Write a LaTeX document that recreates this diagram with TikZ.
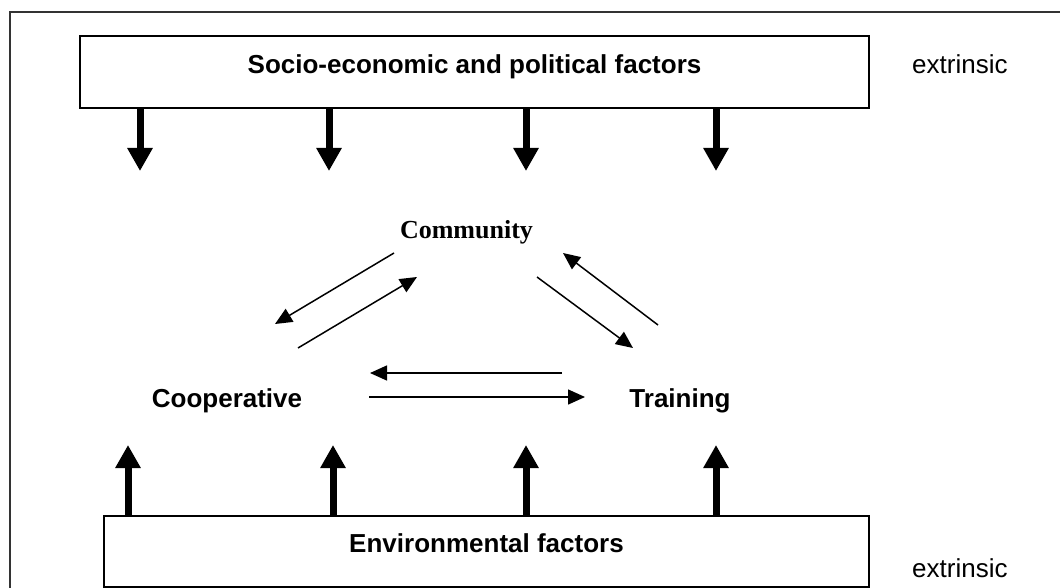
\documentclass[tikz,border=0pt]{standalone}
\usepackage{fontspec}
\setmainfont{Liberation Sans}
\newfontfamily\timesfont{Liberation Serif}
\usetikzlibrary{arrows.meta}
\tikzset{
    factor box/.style = {
        draw,
        line width=1.3pt,
        inner sep=0pt,
        font=\fontsize{26}{30}\selectfont\bfseries,
        },
    actor/.style = {
        anchor=base,
        inner sep=0pt,
        font=\fontsize{26}{30}\selectfont\bfseries,
        },
    side/.style = {
        anchor=base west,
        inner sep=0pt,
        font=\fontsize{26}{30}\selectfont,
        },
    pressure/.style = {
        line width=7pt,
        -{Triangle[length=23pt,width=24pt]},
        },
    link/.style = {
        line width=1.5pt,
        -{Triangle[length=17pt,width=15pt]},
        },
}
\begin{document}
\begin{tikzpicture}[x=1pt,y=-1pt]
            \useasboundingbox (0,0) rectangle (1060,588);
            \draw[line width=1.5pt, black!80] (10,588) -- (10,12) -- (1060,12);

            \node[factor box, minimum width=789pt, text height=38pt, text depth=34pt] (socio) at (474.5,72) {Socio-economic and political factors};
            \node[factor box, minimum width=765pt, text height=36pt, text depth=35pt] (env) at (486.5,551.5) {Environmental factors};
            \node[side] (ext1) at (912,74) {extrinsic};
            \node[side] (ext2) at (912,577) {extrinsic};

            \node[actor, font=\timesfont\fontsize{26}{30}\selectfont\bfseries] (comm) at (466.5,239) {Community};
            \node[actor] (coop) at (227,407) {Cooperative};
            \node[actor] (train) at (680,407) {Training};

            % outside pressure
            \foreach \x [count=\i] in {140,329,526,716} {
                \coordinate (d\i) at (\x,171);
                \draw[pressure] (socio.south -| d\i) -- (d\i);
            }
            \foreach \x [count=\i] in {128,333,526,716} {
                \coordinate (u\i) at (\x,445);
                \draw[pressure] (env.north -| u\i) -- (u\i);
            }

            \draw[link] ([shift={(-72.5,14)}]comm.base) -- ([shift={(48,-83)}]coop.base);
            \draw[link] ([shift={(71,-59)}]coop.base) -- ([shift={(-49.5,38)}]comm.base);
            \draw[link] ([shift={(70.5,38)}]comm.base) -- ([shift={(-47,-59)}]train.base);
            \draw[link] ([shift={(-22,-82)}]train.base) -- ([shift={(96.5,14)}]comm.base);
            \draw[link] ([shift={(-118,-34)}]train.base) -- ([shift={(143,-34)}]coop.base);
            \draw[link] ([shift={(142,-10)}]coop.base) -- ([shift={(-95,-10)}]train.base);
        \end{tikzpicture}
\end{document}
